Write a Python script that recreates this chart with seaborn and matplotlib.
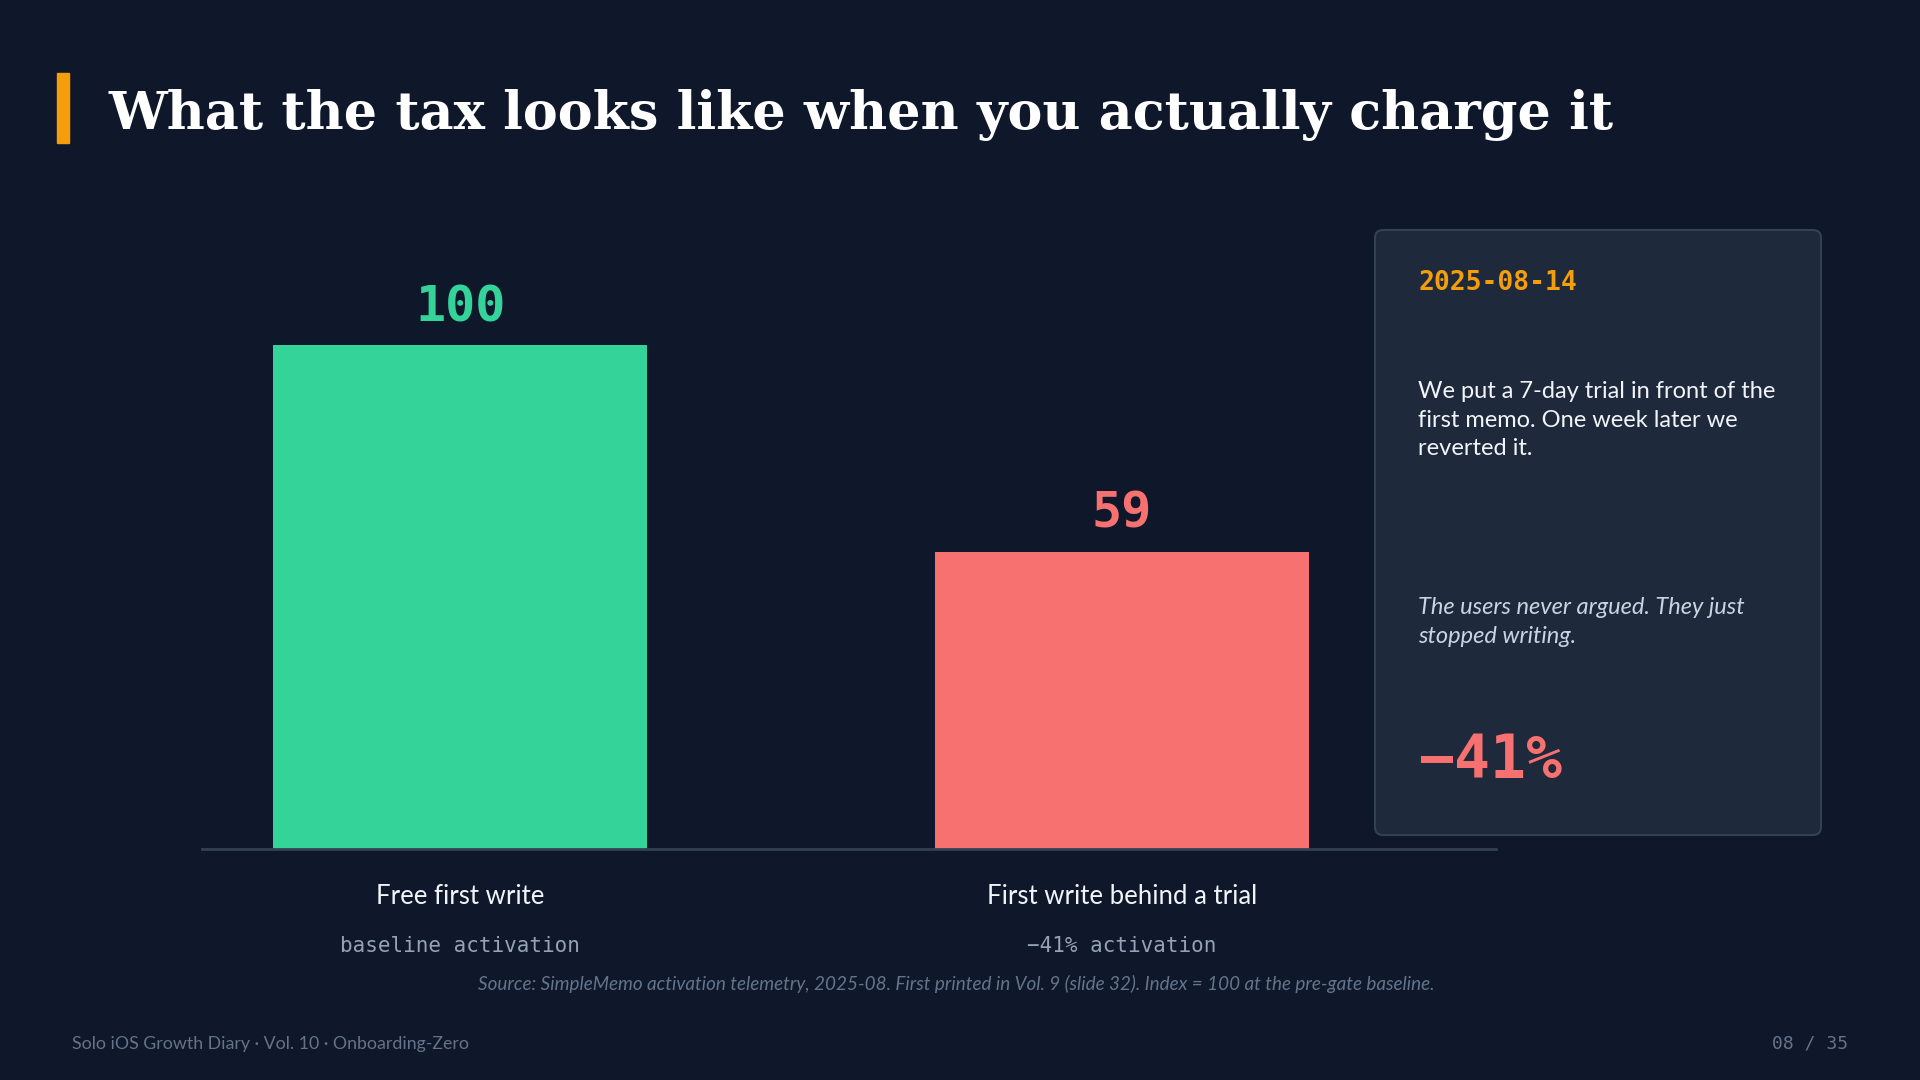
import matplotlib
matplotlib.use("Agg")
import matplotlib.pyplot as plt
import seaborn as sns
import pandas as pd
from matplotlib.patches import FancyBboxPatch, Rectangle

# ---- data ----
categories = ["Free first write", "First write behind a trial"]
values = [100, 59]
sublabels = ["baseline activation", "\u221241% activation"]
value_labels = ["100", "59"]
bar_colors = ["#34d399", "#f87171"]

title = "What the tax looks like when you actually charge it"
card_date = "2025-08-14"
card_body = "We put a 7-day trial in front of the\nfirst memo. One week later we\nreverted it."
card_quote = "The users never argued. They just\nstopped writing."
card_big = "\u221241%"
source = ("Source: SimpleMemo activation telemetry, 2025-08. First printed in Vol. 9 "
          "(slide 32). Index = 100 at the pre-gate baseline.")
footer_left = "Solo iOS Growth Diary \u00b7 Vol. 10 \u00b7 Onboarding-Zero"
footer_right = "08 / 35"

BG = "#0f172a"
sns.set_theme(style="dark")
plt.rcParams["font.family"] = ["Lato", "DejaVu Sans"]

fig = plt.figure(figsize=(19.2, 10.8), dpi=100, facecolor=BG)

# ---- main bar axes ----
ax = fig.add_axes([202 / 1920, 1 - 849 / 1080, 1294 / 1920, 605 / 1080])
ax.set_facecolor(BG)
df = pd.DataFrame({"cat": categories, "val": values})
sns.barplot(data=df, x="cat", y="val", hue="cat", palette=bar_colors,
            width=0.566, legend=False, ax=ax, saturation=1, linewidth=0)
ax.set_ylim(0, 120)
ax.set_xlim(-0.39, 1.565)
for s in ["top", "right", "left"]:
    ax.spines[s].set_visible(False)
ax.spines["bottom"].set_color("#334155")
ax.spines["bottom"].set_linewidth(2)
ax.set_yticks([])
ax.set_xlabel("")
ax.set_ylabel("")
ax.grid(False)
ax.tick_params(axis="x", length=0, pad=25, labelsize=18.5, labelcolor="#f1f5f9")

for i, (v, lbl, c) in enumerate(zip(values, value_labels, bar_colors)):
    ax.text(i, v + 7.5, lbl, ha="center", va="center", color=c,
            fontsize=36, fontweight="bold", family="DejaVu Sans Mono")

for i, sl in enumerate(sublabels):
    ax.text(i, -97 / 605 * 120, sl, ha="center", va="center",
            color="#94a3b8", fontsize=15, family="DejaVu Sans Mono",
            transform=ax.transData, clip_on=False)

# ---- title ----
fig.patches.append(Rectangle((57 / 1920, 1 - 143 / 1080), 12 / 1920, 70 / 1080,
                             transform=fig.transFigure, color="#f59e0b"))
fig.text(108 / 1920, 1 - 115 / 1080, title, ha="left", va="center",
         color="white", fontsize=37.75, fontweight="bold", family="DejaVu Serif")

# ---- card ----
card = FancyBboxPatch((13.75, 2.45), 18.21 - 13.75, 8.5 - 2.45,
                      boxstyle="round,pad=0,rounding_size=0.08",
                      transform=fig.dpi_scale_trans,
                      facecolor="#1e293b", edgecolor="#334155", linewidth=1.5)
fig.patches.append(card)

cx = 1418 / 1920
fig.text(cx, 1 - 283 / 1080, card_date, ha="left", va="center", color="#f59e0b",
         fontsize=19, fontweight="bold", family="DejaVu Sans Mono")
fig.text(cx, 1 - 381 / 1080, card_body, ha="left", va="top", color="#f1f5f9",
         fontsize=17, linespacing=1.45)
fig.text(cx, 1 - 597 / 1080, card_quote, ha="left", va="top", color="#cbd5e1",
         fontsize=17, style="italic", linespacing=1.45)
fig.text(cx, 1 - 762 / 1080, card_big, ha="left", va="center", color="#f87171",
         fontsize=43, fontweight="bold", family="DejaVu Sans Mono")

# ---- source & footer ----
fig.text(956 / 1920, 1 - 984 / 1080, source, ha="center", va="center",
         color="#64748b", fontsize=13.6, style="italic")
fig.text(72 / 1920, 1 - 1044 / 1080, footer_left, ha="left", va="center",
         color="#64748b", fontsize=12.75)
fig.text(1848 / 1920, 1 - 1044 / 1080, footer_right, ha="right", va="center",
         color="#64748b", fontsize=13, family="DejaVu Sans Mono")

fig.savefig("out.png", dpi=100, facecolor=BG)
